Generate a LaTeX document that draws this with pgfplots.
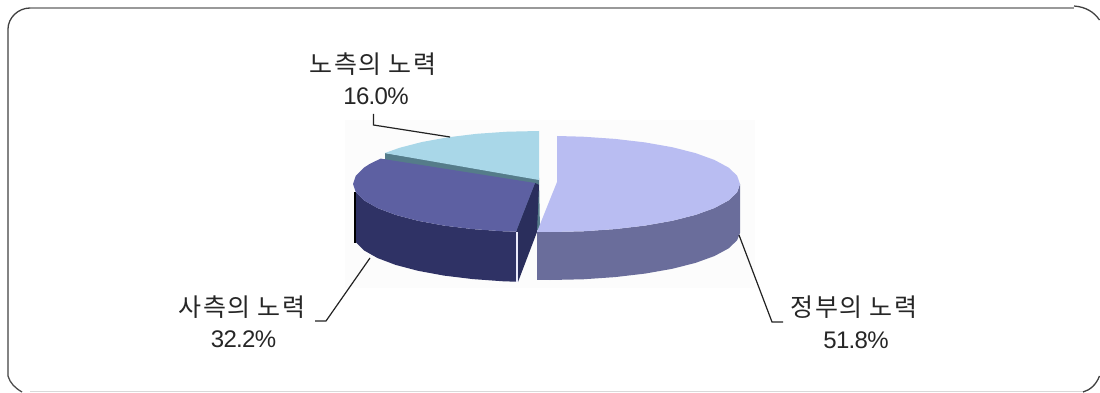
\documentclass[border=0pt]{standalone}
\usepackage{pgfplots}
\pgfplotsset{compat=1.18}
\usepackage{fontspec}
\setmainfont[LetterSpace=-3]{Liberation Sans}
\newfontfamily\cjk[LetterSpace=6]{Noto Sans CJK KR}
\definecolor{govtop}{HTML}{B9BDF2}
\definecolor{govside}{HTML}{6A6D9B}
\definecolor{mgmttop}{HTML}{5D60A2}
\definecolor{mgmtside}{HTML}{2F3265}
\definecolor{mgmtinner}{HTML}{2A2E5C}
\definecolor{labtop}{HTML}{A9D7E8}
\definecolor{labside}{HTML}{557C8A}
\definecolor{leader}{HTML}{222222}
\begin{document}
\begin{tikzpicture}
\useasboundingbox (0,0) rectangle (1100pt,393pt);
\begin{axis}[
  scale only axis, width=1100pt, height=393pt,
  xmin=0, xmax=1100, ymin=0, ymax=393, y dir=reverse,
  hide axis, clip=false,
  every axis plot/.append style={line width=0pt, draw=none},
]
% soft ground behind the pie
\addplot[fill=black!1.2, draw=none] coordinates {(345,120)(755,120)(755,288)(345,288)} --cycle;

% labour share: side wall, then top
\addplot[fill=labside] coordinates {(385,153)(539,178)(540,230)(520,232)(385,172)} --cycle;
\addplot[fill=labtop] coordinates {(539,180)(539,131)(507.4,131.7)(476.8,133.8)(448,137.3)(422,142)(399.6,147.8)(384.7,153.1)} --cycle;

% management share: cut face, outer wall, top
\addplot[fill=mgmtinner] coordinates {(516,231.7)(535,183)(539,185)(537,232)(518,282)} --cycle;
\addplot[fill=mgmtside] coordinates {(355.8,192.3)(364,200.4)(377.4,208)(395.6,214.9)(418,220.8)(444,225.6)(472.8,229.1)(503.3,231.3)(516,231.7)
  (516,281.7)(503.3,281.3)(472.8,279.1)(444,275.6)(418,270.8)(395.6,264.9)(377.4,258)(364,250.4)(355.8,242.3)} --cycle;
\addplot[fill=black] coordinates {(354,192)(356,192)(356,243)(354,243)} --cycle;
\addplot[fill=mgmttop] coordinates {(535,183)(380.7,158.6)(370.1,163.7)(364,167.6)(355.8,175.7)(353,184)(355.8,192.3)(364,200.4)(377.4,208)(395.6,214.9)(418,220.8)(444,225.6)(472.8,229.1)(503.3,231.3)(516,231.7)} --cycle;
\addplot[fill=black!15!blue!8!white] coordinates {(516,232)(518,232)(518,282)(516,282)} --cycle;

% government share: outer wall, then top
\addplot[fill=govside] coordinates {(740,184)(737.1,192.3)(728.6,200.4)(714.5,208)(695.5,214.9)(672.2,220.8)(645,225.6)(615,229.1)(583,231.3)(550,232)(537,231.9)
  (537,279.9)(550,280)(583,279.3)(615,277.1)(645,273.6)(672.2,268.8)(695.5,262.9)(714.5,256)(728.6,248.4)(737.1,240.3)(740,233)} --cycle;
\addplot[fill=govtop] coordinates {(557,182)(557,136)(583,136.7)(615,138.9)(645,142.4)(672.2,147.2)(695.5,153.1)(714.5,160)(728.6,167.6)(737.1,175.7)(740,184)
  (737.1,192.3)(728.6,200.4)(714.5,208)(695.5,214.9)(672.2,220.8)(645,225.6)(615,229.1)(583,231.3)(550,232)(537,231.9)} --cycle;

% leader lines
\addplot[draw=leader, line width=1.2pt] coordinates {(373.5,114)(373.5,125)(450,137)};
\addplot[draw=leader, line width=1.2pt] coordinates {(315,321)(326,321)(370,258)};
\addplot[draw=leader, line width=1.2pt] coordinates {(783,322)(772,322)(739,235)};

% labels
\node[font=\cjk\fontsize{25}{27}\selectfont, text=black!85] at (axis cs:373,64) {노측의 노력};
\node[font=\fontsize{24}{26}\selectfont, text=black!85] at (axis cs:376,96) {16.0\%};
\node[font=\cjk\fontsize{25}{27}\selectfont, text=black!85] at (axis cs:242,307) {사측의 노력};
\node[font=\fontsize{24}{26}\selectfont, text=black!85] at (axis cs:243.5,339) {32.2\%};
\node[font=\cjk\fontsize{25}{27}\selectfont, text=black!85] at (axis cs:854,307) {정부의 노력};
\node[font=\fontsize{24}{26}\selectfont, text=black!85] at (axis cs:856,340) {51.8\%};

% rounded frame
\draw[black!40, line width=1.8pt] (axis cs:30,8) -- (axis cs:1074,8);
\draw[black!75, line width=1.3pt] (axis cs:1074,6) .. controls (axis cs:1086,7) and (axis cs:1094,12) .. (axis cs:1099.5,20);
\draw[black!75, line width=1.3pt] (axis cs:30,8) .. controls (axis cs:18,8) and (axis cs:8,18) .. (axis cs:8,29) -- (axis cs:8,376);
\draw[black!70, line width=1.3pt] (axis cs:8,376) .. controls (axis cs:10,383) and (axis cs:15,388) .. (axis cs:22,392);
\draw[black!15, line width=1.2pt] (axis cs:30,391.5) -- (axis cs:1083,391.5);
\draw[black!75, line width=1.3pt] (axis cs:1083,392) .. controls (axis cs:1090,390) and (axis cs:1096,385) .. (axis cs:1099.5,376);
\end{axis}
\end{tikzpicture}
\end{document}
